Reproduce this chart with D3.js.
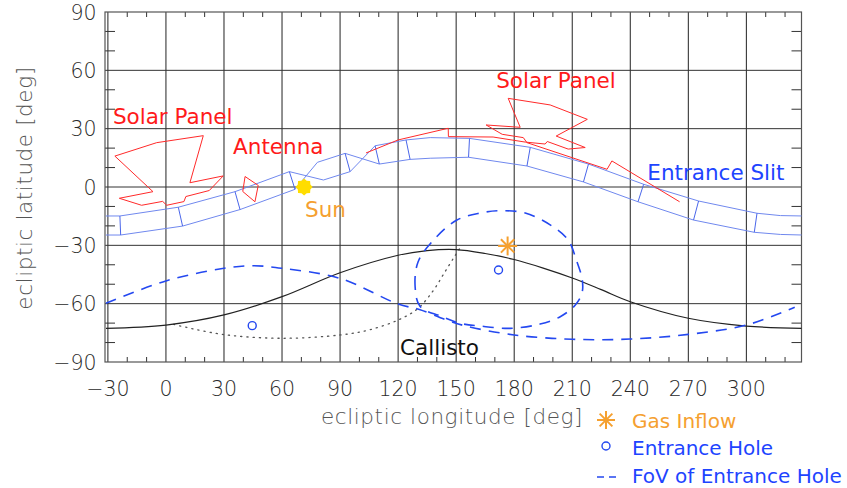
<!DOCTYPE html>
<html>
<head>
<meta charset="utf-8">
<script src="https://cdn.jsdelivr.net/npm/d3@7"></script>
<style>
body { margin: 0; background: #fff; }
svg text { font-family: "DejaVu Sans", sans-serif; }
.ticklabel { font-size: 20.5px; fill: #2a2a2a; font-weight: 200; }
.axistitle { font-size: 21.5px; fill: #555; font-weight: 200; letter-spacing: 0.6px; }
.label { font-size: 21.5px; }
.legend { font-size: 20px; }
</style>
</head>
<body>
<svg id="chart" width="847" height="488"></svg>
<script>
// ---- data (ecliptic longitude, latitude in degrees) ----
var xTicks = [-30, 0, 30, 60, 90, 120, 150, 180, 210, 240, 270, 300];
var yTicks = [-90, -60, -30, 0, 30, 60, 90];

// entrance slit: the two long edges and the indices where a divider joins them
var slitUpper = [[-31,-14.9],[-23.8,-14.9],[6.4,-10.4],[35.7,-2.4],[63.8,7.9],[81.4,3.6],[95.2,7.9],
	[108.1,21.2],[124.1,24.2],[136.6,25.4],[156.9,25.0],[188.3,20.4],[218.4,11.8],[246.9,1.4],
	[275.3,-7.2],[305.5,-13.5],[317.6,-14.7],[329,-14.9]];
var slitLower = [[-31,-24.7],[-23.4,-24.7],[8.6,-20.1],[38.3,-11.6],[66.7,-1.2],[78.3,12.7],[92.6,17.3],
	[110.3,11.8],[126.2,14.2],[136.6,14.8],[156.4,15.3],[186.6,10.8],[215.8,2.6],[244.0,-7.6],
	[272.7,-17.0],[304.1,-23.3],[317.6,-24.4],[329,-24.7]];
var slitDividers = [1, 2, 3, 4, 6, 7, 8, 10, 11, 12, 13, 14, 15];

var solarPanelLeft = [[-26.4,15.9],[-4.8,22.8],[19.3,26.4],[12.4,2.2],[29.6,5.7],[22.4,-1.8],[10.3,-4.9],
	[9.3,-7.5],[0.4,-9.4],[-1.7,-7.4],[-12.6,-9.4],[-24.1,-5.8],[-6.7,-2.4],[-26.4,15.9]];
var antenna = [[40.9,5.4],[47.7,0.8],[46.0,-7.6],[39.7,-2.3],[40.9,5.4]];
var solarPanelRight = [[103.4,17.5],[120.0,24.2],[145.9,30.2],[146.0,25.9],[169.1,25.7],[185.7,23.1],
	[196.0,22.1],[197.1,23.4],[207.9,19.5],[216.7,20.3],[201.7,26.2],[217.8,34.8],[198.6,42.2],
	[176.9,45.6],[183.1,30.7],[165.5,31.9],[173.8,27.1],[184.7,25.4],[186.6,22.8],[228.0,9.1],
	[230.5,13.4],[265.5,-7.6]];

var callisto = [[-31,-72.7],[0,-71.0],[30,-65.8],[60,-56.4],[90,-44.1],[120,-35.1],[135,-32.7],[150,-32.2],
	[165,-34.2],[180,-37.3],[195,-41.7],[210,-46.8],[225,-52.8],[240,-59.0],[270,-67.5],[300,-71.5],[329,-72.7]];
var callistoHidden = [[4,-70.7],[30,-75.9],[60,-77.8],[90,-76.1],[105,-73.5],[120,-68.4],[130,-62.7],
	[138,-53.5],[144,-44],[149,-36],[152,-31.4]];

var fovWave = [[-31,-59.8],[0,-48.3],[30,-41.8],[45,-40.5],[60,-41.8],[90,-47.0],[120,-60.2],[131,-63.0],
	[145,-68.4],[155,-71.5],[180,-76.1],[210,-78.3],[240,-78.2],[270,-75.8],[300,-71.0],[325,-61.9]];
var fovLoop = [[131.4,-61.5],[128.8,-51.4],[130.3,-38.6],[138.3,-27.3],[150.4,-17.0],[162.4,-13.4],
	[172.8,-12.2],[185.7,-13.4],[198.6,-19.5],[207.9,-27.3],[212.1,-37.5],[215.2,-47.8],[215.0,-54.7],
	[211.6,-60.7],[203.8,-66.7],[193.4,-70.5],[177.9,-72.7],[162.4,-71.5],[152.1,-70.1],[141.7,-66.3]];

var entranceHoles = [[44.6,-71.3],[171.9,-42.7]];
var gasInflow = [[176.6,-30.3]];
var sun = [[71.4,0]];

var labels = [
	{text: "Solar Panel", lon: -27.4, lat: 32.4, kind: "part"},
	{text: "Antenna", lon: 34.7, lat: 17.0, kind: "part"},
	{text: "Solar Panel", lon: 170.7, lat: 50.9, kind: "part"},
	{text: "Entrance Slit", lon: 248.8, lat: 3.6, kind: "slit"},
	{text: "Sun", lon: 71.9, lat: -15.3, kind: "sun"},
	{text: "Callisto", lon: 121.0, lat: -86.4, kind: "moon"}
];

// ---- layout ----
var plot = {left: 105, right: 801.5, top: 12, bottom: 362};
var red = "#ff2a2a", blue = "#2448f0", slitBlue = "#7088ee", orange = "#f5a030";

var svg = d3.select("#chart");
var x = d3.scaleLinear().domain([-31.5, 328.5]).range([plot.left, plot.right]);
var y = d3.scaleLinear().domain([-90, 90]).range([plot.bottom, plot.top]);

svg.append("defs").append("clipPath").attr("id", "clip")
	.append("rect").attr("x", plot.left).attr("y", plot.top)
	.attr("width", plot.right - plot.left).attr("height", plot.bottom - plot.top);

var line = d3.line().x(function(d) { return x(d[0]); }).y(function(d) { return y(d[1]); });
var smooth = d3.line().x(function(d) { return x(d[0]); }).y(function(d) { return y(d[1]); })
	.curve(d3.curveCatmullRom);
var smoothClosed = d3.line().x(function(d) { return x(d[0]); }).y(function(d) { return y(d[1]); })
	.curve(d3.curveCatmullRomClosed);

//Grid lines (major ticks)
var grid = svg.append("g");
grid.selectAll(".vg").data(xTicks).enter().append("line")
	.attr("x1", function(d) { return x(d); }).attr("x2", function(d) { return x(d); })
	.attr("y1", plot.top).attr("y2", plot.bottom)
	.attr("stroke", "#222").attr("stroke-width", 1);
grid.selectAll(".hg").data(yTicks.slice(1, -1)).enter().append("line")
	.attr("y1", function(d) { return y(d); }).attr("y2", function(d) { return y(d); })
	.attr("x1", plot.left).attr("x2", plot.right)
	.attr("stroke", "#333").attr("stroke-width", 1);

//Minor ticks every 10 degrees
var xMinor = d3.range(-30, 330, 10).filter(function(d) { return xTicks.indexOf(d) < 0; });
var yMinor = d3.range(-80, 90, 10).filter(function(d) { return yTicks.indexOf(d) < 0; });
[plot.bottom, plot.top].forEach(function(edge) {
	var dir = edge === plot.bottom ? -1 : 1;
	grid.selectAll(null).data(xMinor).enter().append("line")
		.attr("x1", function(d) { return x(d); }).attr("x2", function(d) { return x(d); })
		.attr("y1", edge).attr("y2", edge + dir * 5)
		.attr("stroke", "#333").attr("stroke-width", 1);
});
[plot.left, plot.right].forEach(function(edge) {
	var dir = edge === plot.left ? 1 : -1;
	grid.selectAll(null).data(yMinor).enter().append("line")
		.attr("y1", function(d) { return y(d); }).attr("y2", function(d) { return y(d); })
		.attr("x1", edge).attr("x2", edge + dir * 10)
		.attr("stroke", "#333").attr("stroke-width", 1);
});

svg.append("rect").attr("x", plot.left).attr("y", plot.top)
	.attr("width", plot.right - plot.left).attr("height", plot.bottom - plot.top)
	.attr("fill", "none").attr("stroke", "#555").attr("stroke-width", 1.2);

//Tick labels
var fmt = function(d) { return d < 0 ? "\u2212" + Math.abs(d) : String(d); };
svg.selectAll(".xt").data(xTicks).enter().append("text").attr("class", "ticklabel")
	.attr("x", function(d) { return x(d); }).attr("y", 395.5)
	.attr("text-anchor", "middle").text(fmt);
svg.selectAll(".yt").data(yTicks).enter().append("text").attr("class", "ticklabel")
	.attr("x", 96.5).attr("y", function(d) { return y(d) + 7.5; })
	.attr("text-anchor", "end").text(fmt);

//Axis titles
svg.append("text").attr("class", "axistitle")
	.attr("x", 452).attr("y", 424).attr("text-anchor", "middle")
	.text("ecliptic longitude [deg]");
svg.append("text").attr("class", "axistitle")
	.attr("transform", "translate(32,188)rotate(-90)").attr("text-anchor", "middle")
	.text("ecliptic latitude [deg]");

//Plot contents
var g = svg.append("g").attr("clip-path", "url(#clip)");

g.append("path").datum(callistoHidden).attr("d", smooth)
	.attr("fill", "none").attr("stroke", "#555").attr("stroke-width", 1.3)
	.attr("stroke-dasharray", "1.2,5").attr("stroke-linecap", "round");
g.append("path").datum(callisto).attr("d", smooth)
	.attr("fill", "none").attr("stroke", "#222").attr("stroke-width", 1.2);

g.append("path").datum(fovWave).attr("d", smooth)
	.attr("fill", "none").attr("stroke", blue).attr("stroke-width", 1.6).attr("stroke-dasharray", "11,8");
g.append("path").datum(fovLoop).attr("d", smoothClosed)
	.attr("fill", "none").attr("stroke", blue).attr("stroke-width", 1.6).attr("stroke-dasharray", "11,8");

[slitUpper, slitLower].forEach(function(edge) {
	g.append("path").datum(edge).attr("d", line)
		.attr("fill", "none").attr("stroke", slitBlue).attr("stroke-width", 1);
});
g.selectAll(".div").data(slitDividers).enter().append("line")
	.attr("x1", function(i) { return x(slitUpper[i][0]); }).attr("y1", function(i) { return y(slitUpper[i][1]); })
	.attr("x2", function(i) { return x(slitLower[i][0]); }).attr("y2", function(i) { return y(slitLower[i][1]); })
	.attr("stroke", "#4a66ea").attr("stroke-width", 1);

[solarPanelLeft, antenna, solarPanelRight].forEach(function(part) {
	g.append("path").datum(part).attr("d", line)
		.attr("fill", "none").attr("stroke", red).attr("stroke-width", 1);
});

//Symbols
function sunPath(r1, r2) {
	var pts = d3.range(16).map(function(i) {
		var a = i * Math.PI / 8, r = i % 2 ? r2 : r1;
		return [r * Math.cos(a), r * Math.sin(a)];
	});
	return "M" + pts.join("L") + "Z";
}
function asterisk(sel, r) {
	[0, 45, 90, 135].forEach(function(a) {
		sel.append("line").attr("x1", -r).attr("x2", r).attr("y1", 0).attr("y2", 0)
			.attr("transform", "rotate(" + a + ")")
			.attr("stroke", orange).attr("stroke-width", 2);
	});
}

g.selectAll(".sun").data(sun).enter().append("path")
	.attr("transform", function(d) { return "translate(" + x(d[0]) + "," + y(d[1]) + ")"; })
	.attr("d", sunPath(8.5, 6.8)).attr("fill", "#ffdd00");

g.selectAll(".hole").data(entranceHoles).enter().append("circle")
	.attr("cx", function(d) { return x(d[0]); }).attr("cy", function(d) { return y(d[1]); })
	.attr("r", 4).attr("fill", "none").attr("stroke", blue).attr("stroke-width", 1.4);

g.selectAll(".gas").data(gasInflow).enter().append("g")
	.attr("transform", function(d) { return "translate(" + x(d[0]) + "," + y(d[1]) + ")"; })
	.each(function() { asterisk(d3.select(this), 9.5); });

//Labels
var labelColor = {part: "#ff1a1a", slit: "#1e44ff", sun: orange, moon: "#111"};
svg.selectAll(".lbl").data(labels).enter().append("text").attr("class", "label")
	.attr("x", function(d) { return x(d.lon); }).attr("y", function(d) { return y(d.lat); })
	.attr("fill", function(d) { return labelColor[d.kind]; })
	.text(function(d) { return d.text; });

//Legend
var leg = svg.append("g").attr("class", "legend");
asterisk(leg.append("g").attr("transform", "translate(606,420)"), 9);
leg.append("text").attr("x", 632).attr("y", 428).attr("fill", orange).text("Gas Inflow");
leg.append("circle").attr("cx", 606).attr("cy", 446).attr("r", 4)
	.attr("fill", "none").attr("stroke", blue).attr("stroke-width", 1.4);
leg.append("text").attr("x", 632).attr("y", 455).attr("fill", "#1e44ff").text("Entrance Hole");
leg.append("line").attr("x1", 597).attr("x2", 620).attr("y1", 477).attr("y2", 477)
	.attr("stroke", blue).attr("stroke-width", 1.6).attr("stroke-dasharray", "7,5");
leg.append("text").attr("x", 632).attr("y", 483).attr("fill", "#1e44ff").text("FoV of Entrance Hole");
</script>
</body>
</html>
